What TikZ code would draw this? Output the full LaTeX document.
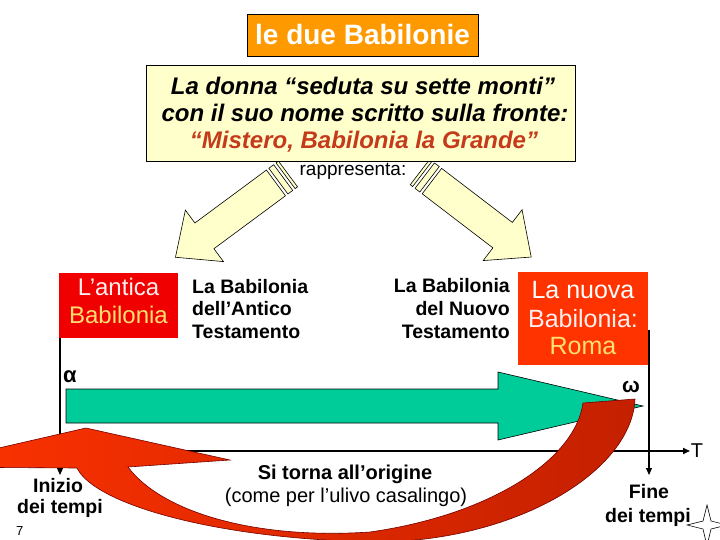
\documentclass[tikz,border=0pt]{standalone}
\usepackage{fontspec}
\setmainfont{Liberation Sans}
\usetikzlibrary{arrows.meta}
\definecolor{titleor}{HTML}{FF9900}
\definecolor{paleyel}{HTML}{FFFFCC}
\definecolor{brick}{HTML}{C43A1A}
\definecolor{redA}{HTML}{F00000}
\definecolor{redB}{HTML}{FF3300}
\definecolor{softyel}{HTML}{FFE070}
\definecolor{pinkw}{HTML}{FFEEEE}
\definecolor{tealg}{HTML}{00CC99}
\definecolor{darkred}{HTML}{C42000}
\newcommand{\fsz}[2]{\fontsize{#1}{#2}\selectfont}
\tikzset{
  lbl/.style={anchor=base, inner sep=0pt},
  blockarrow/.style={fill=paleyel, draw=black, line width=0.6pt},
  boxline/.style={draw=black, line width=0.8pt},
  axisline/.style={line width=1.6pt, -{Triangle[length=7pt,width=6pt]}},
  vline/.style={line width=1.2pt, -{Triangle[length=7pt,width=6pt]}},
  boldtxt/.style={font=\fsz{19.5}{23}\bfseries},
}
\begin{document}
\begin{tikzpicture}[x=1pt,y=-1pt]
\clip (0,0) rectangle (720,540);
\fill[white] (0,0) rectangle (720,540);

% block arrows
\begin{scope}[shift={(288,174)},rotate=216.5]
  \draw[blockarrow] (0,-16) rectangle (3,16);
  \draw[blockarrow] (6,-16) rectangle (12,16);
  \draw[blockarrow] (15,-16) -- (104,-16) -- (104,-32) -- (140,0) -- (104,32) -- (104,16) -- (15,16) -- cycle;
\end{scope}
\begin{scope}[shift={(420,172)},rotate=-37.4]
  \draw[blockarrow] (0,-16) rectangle (3,16);
  \draw[blockarrow] (6,-16) rectangle (12,16);
  \draw[blockarrow] (15,-16) -- (104,-16) -- (104,-32) -- (140,0) -- (104,32) -- (104,16) -- (15,16) -- cycle;
\end{scope}

% title and yellow box
\draw[boxline, fill=titleor] (247,14) rectangle (478,56);
\node[lbl, text=white, font=\fsz{28}{32}\bfseries] (title) at (362.5,45) {le due Babilonie};
\draw[boxline, fill=paleyel] (146,65) rectangle (575,161);
\node[lbl, font=\fsz{24}{28}\bfseries\itshape] (q1) at (363,95) {La donna “seduta su sette monti”};
\node[lbl, font=\fsz{24}{28}\bfseries\itshape] (q2) at (365,122) {con il suo nome scritto sulla fronte:};
\node[lbl, text=brick, font=\fsz{24}{28}\bfseries\itshape] (q3) at (364,149) {“Mistero, Babilonia la Grande”};
\node[lbl, font=\fsz{19}{22}] (rap) at (353,176) {rappresenta:};

% axes
\coordinate (lv0) at (60,330);
\coordinate (lv1) at (60,475);
\coordinate (rv0) at (649,330);
\coordinate (rv1) at (649,475);
\coordinate (ax0) at (60,451);
\coordinate (ax1) at (690,451);
\draw[vline] (lv0) -- (lv1);
\draw[vline] (rv0) -- (rv1);
\draw[axisline] (ax0) -- (ax1);

% green arrow
\draw[fill=tealg, draw=black, line width=0.6pt] (66,389) -- (498,389) -- (498,372) -- (643,406) -- (498,440) -- (498,423) -- (66,423) -- cycle;

% red boxes
\draw[fill=redA, draw=none] (59,273) rectangle (178,338);
\node[lbl, text=pinkw, font=\fsz{24}{28}] (ant1) at (118.5,295) {L’antica};
\node[lbl, text=softyel, font=\fsz{24}{28}] (ant2) at (118.5,323) {Babilonia};
\draw[fill=redB, draw=none] (518,272) rectangle (648,365);
\node[lbl, text=white, font=\fsz{25}{28}] (nu1) at (583,298) {La nuova};
\node[lbl, text=pinkw, font=\fsz{25}{28}] (nu2) at (583,327) {Babilonia:};
\node[lbl, text=softyel, font=\fsz{25}{28}] (nu3) at (583,354) {Roma};

% black texts
\node[lbl, anchor=base west, boldtxt] (at1) at (192,293) {La Babilonia};
\node[lbl, anchor=base west, boldtxt] (at2) at (192,315) {dell’Antico};
\node[lbl, anchor=base west, boldtxt] (at3) at (192,338) {Testamento};
\node[lbl, anchor=base east, boldtxt] (nt1) at (510,292) {La Babilonia};
\node[lbl, anchor=base east, boldtxt] (nt2) at (510,315) {del Nuovo};
\node[lbl, anchor=base east, boldtxt] (nt3) at (510,338) {Testamento};

% red curved arrow
\draw[draw=black!55!red, line width=0.6pt, left color=redB, right color=darkred]
  (583,403) .. controls (575,460) and (490,515) .. (370,532)
  .. controls (250,540) and (160,510) .. (128,467)
  -- (230,460) -- (86,428) -- (-84,467) -- (77,468)
  .. controls (95,505) and (220,540) .. (380,542)
  .. controls (520,540) and (632,470) .. (635,399) -- cycle;

% labels
\node[lbl, anchor=base west, font=\fsz{22}{24}\bfseries] (alpha) at (63,382) {α};
\node[lbl, font=\fsz{21}{24}\bfseries] (omega) at (631,392) {ω};
\node[lbl, font=\fsz{20}{23}] (T) at (697,457) {T};
\node[lbl, boldtxt] (in1) at (58,492) {Inizio};
\node[lbl, boldtxt] (in2) at (60,513) {dei tempi};
\node[lbl, anchor=base west, font=\fsz{13}{15}] (pg) at (16,535) {7};
\node[lbl, font=\fsz{20}{23}\bfseries] (si1) at (345,479) {Si torna all’origine};
\node[lbl, font=\fsz{20}{23}] (si2) at (346,502) {(come per l’ulivo casalingo)};
\node[lbl, boldtxt] (fi1) at (649,498) {Fine};
\node[lbl, boldtxt] (fi2) at (648,522) {dei tempi};

% star
\draw[fill=white, draw=black, line width=0.6pt] (707,505) -- (711,521) -- (727,525) -- (711,529) -- (707,546) -- (703,529) -- (687,525) -- (703,521) -- cycle;
\end{tikzpicture}
\end{document}
